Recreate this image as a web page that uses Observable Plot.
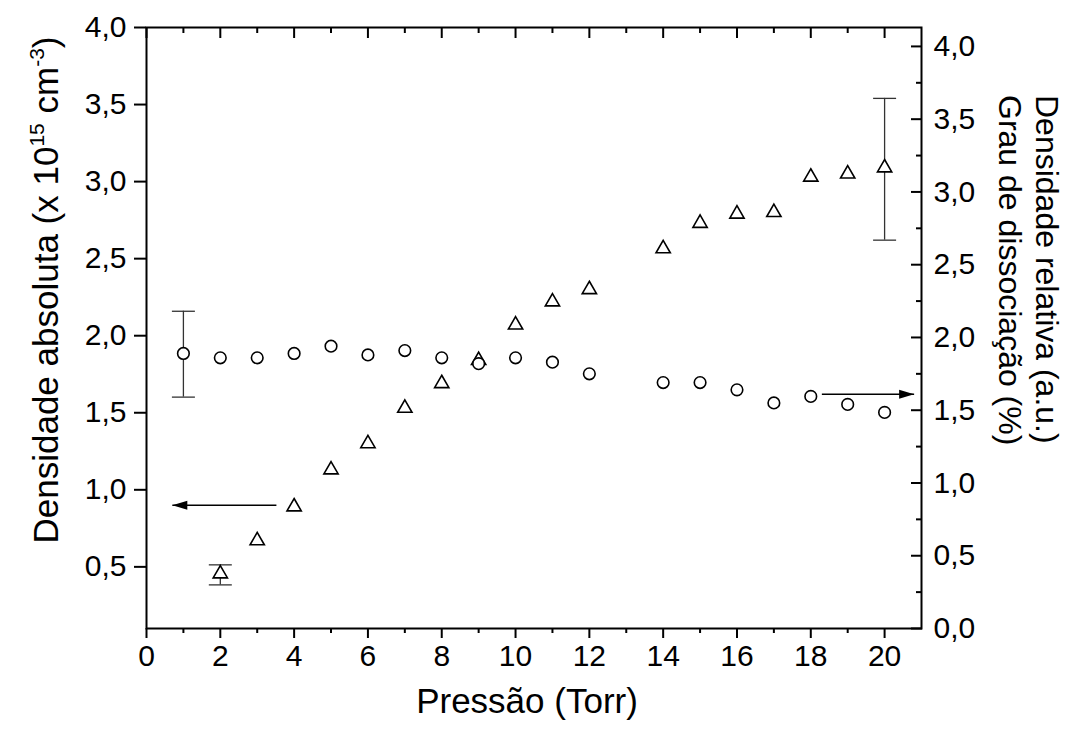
<!DOCTYPE html>
<html>
<head>
<meta charset="utf-8">
<script src="https://cdn.jsdelivr.net/npm/d3@7"></script>
<script src="https://cdn.jsdelivr.net/npm/@observablehq/plot@0.6"></script>
<style>
  body { margin: 0; background: #fff; }
  #chart svg { display: block; }
</style>
</head>
<body>
<div id="chart"></div>
<script>
// ---------- data ----------
const triPressure = [2, 3, 4, 5, 6, 7, 8, 9, 10, 11, 12, 14, 15, 16, 17, 18, 19, 20];
const triDensity  = [0.455, 0.67, 0.89, 1.13, 1.30, 1.53, 1.69, 1.84, 2.07, 2.22, 2.30, 2.565, 2.73, 2.79, 2.80, 3.03, 3.05, 3.09];

const circPressure = [1, 2, 3, 4, 5, 6, 7, 8, 9, 10, 11, 12, 14, 15, 16, 17, 18, 19, 20];
const circValue    = [1.89, 1.86, 1.86, 1.89, 1.94, 1.88, 1.91, 1.86, 1.82, 1.86, 1.83, 1.75, 1.69, 1.69, 1.64, 1.55, 1.595, 1.54, 1.485];

// error bars (triangles on left axis, circle on right axis)
const triErrPressure = [2, 20];
const triErrLow      = [0.383, 2.62];
const triErrHigh     = [0.513, 3.54];
const circErrPressure = [1];
const circErrLow      = [1.59];
const circErrHigh     = [2.18];

// annotation arrows
const leftArrowX  = [3.52, 0.7];   // from, to
const leftArrowY  = 0.90;          // left-axis units
const rightArrowX = [18.3, 20.8];  // from, to
const rightArrowY = 1.61;          // right-axis units

// ticks
const xTicks = [0, 2, 4, 6, 8, 10, 12, 14, 16, 18, 20];
const xMinorTicks = [1, 3, 5, 7, 9, 11, 13, 15, 17, 19];
const leftTicks = [0.5, 1.0, 1.5, 2.0, 2.5, 3.0, 3.5, 4.0];
const rightTicks = [0, 0.5, 1.0, 1.5, 2.0, 2.5, 3.0, 3.5, 4.0];
const rightMinorTicks = [0.25, 0.75, 1.25, 1.75, 2.25, 2.75, 3.25, 3.75];

const xLabel = "Pressão (Torr)";
const rightLabel1 = "Densidade relativa (a.u.)";
const rightLabel2 = "Grau de dissociação (%)";

// ---------- scales ----------
const W = 1075, H = 732;
const yMin = 0.1, yMax = 4.0, rMax = 4.13;
const toLeft = r => yMin + r * (yMax - yMin) / rMax;
const fromLeft = l => (l - yMin) * rMax / (yMax - yMin);
const fmt = d => (Math.round(d * 10) / 10).toFixed(1).replace(".", ",");

const tri = triPressure.map((p, i) => ({x: p, y: triDensity[i]}));
const circ = circPressure.map((p, i) => ({x: p, y: toLeft(circValue[i])}));
const errs = [
  ...triErrPressure.map((p, i) => ({x: p, lo: triErrLow[i], hi: triErrHigh[i]})),
  ...circErrPressure.map((p, i) => ({x: p, lo: toLeft(circErrLow[i]), hi: toLeft(circErrHigh[i])}))
];
const arrows = [
  {x1: leftArrowX[0], x2: leftArrowX[1], y: leftArrowY, rot: 180},
  {x1: rightArrowX[0], x2: rightArrowX[1], y: toLeft(rightArrowY), rot: 0}
];

const capSymbol = {draw(ctx, size) { const r = Math.sqrt(size / Math.PI); ctx.moveTo(-r, 0); ctx.lineTo(r, 0); }};
const headSymbol = {draw(ctx, size) {
  const r = Math.sqrt(size / Math.PI);
  ctx.moveTo(0, 0); ctx.lineTo(-r, -r * 0.3); ctx.lineTo(-r, r * 0.3); ctx.closePath();
}};

const FONT = "'Liberation Sans', Arial, Helvetica, sans-serif";
const TICK_FS = 30;

const plot = Plot.plot({
  width: W, height: H,
  marginLeft: 146, marginRight: 154, marginTop: 27, marginBottom: 104,
  style: {fontFamily: FONT, fontSize: TICK_FS + "px", color: "#000", background: "#fff", overflow: "visible"},
  x: {domain: [0, 21]},
  y: {domain: [yMin, yMax]},
  marks: [
    // error bars
    Plot.ruleX(errs, {x: "x", y1: "lo", y2: "hi", stroke: "#333", strokeWidth: 1.3}),
    Plot.dot(errs, {x: "x", y: "lo", symbol: capSymbol, r: 11.5, stroke: "#333", strokeWidth: 1.3, fill: "none"}),
    Plot.dot(errs, {x: "x", y: "hi", symbol: capSymbol, r: 11.5, stroke: "#333", strokeWidth: 1.3, fill: "none"}),
    // arrows
    Plot.link(arrows, {x1: "x1", x2: "x2", y1: "y", y2: "y", stroke: "#000", strokeWidth: 1.6}),
    Plot.dot(arrows, {x: "x2", y: "y", symbol: headSymbol, r: 15, rotate: "rot", fill: "#000", stroke: "none"}),
    // data
    Plot.dot(tri, {x: "x", y: "y", symbol: "triangle", r: 5.3, fill: "#fff", stroke: "#000", strokeWidth: 1.6}),
    Plot.dot(circ, {x: "x", y: "y", symbol: "circle", r: 5.8, fill: "#fff", stroke: "#000", strokeWidth: 1.6}),
    // frame
    Plot.frame({stroke: "#000", strokeWidth: 2}),
    // bottom axis
    Plot.axisX(xTicks, {anchor: "bottom", tickSize: 10, tickPadding: 6, strokeWidth: 2, label: null, tickFormat: d => String(d)}),
    Plot.axisX(xMinorTicks, {anchor: "bottom", tickSize: 5, strokeWidth: 2, fill: "none", label: null, tickFormat: () => ""}),
    // top axis (inward ticks)
    Plot.axisX(xTicks, {anchor: "top", tickSize: 10, dy: 10, strokeWidth: 2, fill: "none", label: null, tickFormat: () => ""}),
    Plot.axisX(xMinorTicks, {anchor: "top", tickSize: 5, dy: 5, strokeWidth: 2, fill: "none", label: null, tickFormat: () => ""}),
    // left axis
    Plot.axisY(leftTicks, {anchor: "left", tickSize: 12, tickPadding: 8, strokeWidth: 2, label: null, tickFormat: fmt}),
    // right axis (inward ticks)
    Plot.axisY(rightTicks.map(toLeft), {anchor: "right", tickSize: 11, dx: -11, strokeWidth: 2, fill: "none", label: null, tickFormat: () => ""}),
    Plot.axisY(rightMinorTicks.map(toLeft), {anchor: "right", tickSize: 6, dx: -6, strokeWidth: 2, fill: "none", label: null, tickFormat: () => ""}),
    Plot.axisY(rightTicks.map(toLeft), {anchor: "right", tickSize: 0, tickPadding: 12, label: null, tickFormat: d => fmt(fromLeft(d))})
  ]
});

const svg = d3.select(plot);
const titleStyle = (sel, fs) => sel.attr("font-family", FONT).attr("font-size", fs).attr("fill", "#000");

// bottom title
svg.append("text").call(titleStyle, 35)
  .attr("x", 527).attr("y", 713).attr("text-anchor", "middle").text(xLabel);

// left title with superscripts
const LFS = 35;
const lt = svg.append("text").call(titleStyle, LFS)
  .attr("transform", "translate(58,290) rotate(-90)").attr("text-anchor", "middle");
lt.append("tspan").text("Densidade absoluta (x 10");
lt.append("tspan").attr("dy", -14).attr("font-size", LFS * 0.6).text("15");
lt.append("tspan").attr("dy", 14).text(" cm");
lt.append("tspan").attr("dy", -14).attr("font-size", LFS * 0.6).text("-3");
lt.append("tspan").attr("dy", 14).text(")");

// right titles
svg.append("text").call(titleStyle, 32)
  .attr("transform", "translate(1036,95) rotate(90)").attr("text-anchor", "start").text(rightLabel1);
svg.append("text").call(titleStyle, 32)
  .attr("transform", "translate(999,95) rotate(90)").attr("text-anchor", "start").text(rightLabel2);

document.getElementById("chart").appendChild(plot);
</script>
</body>
</html>
